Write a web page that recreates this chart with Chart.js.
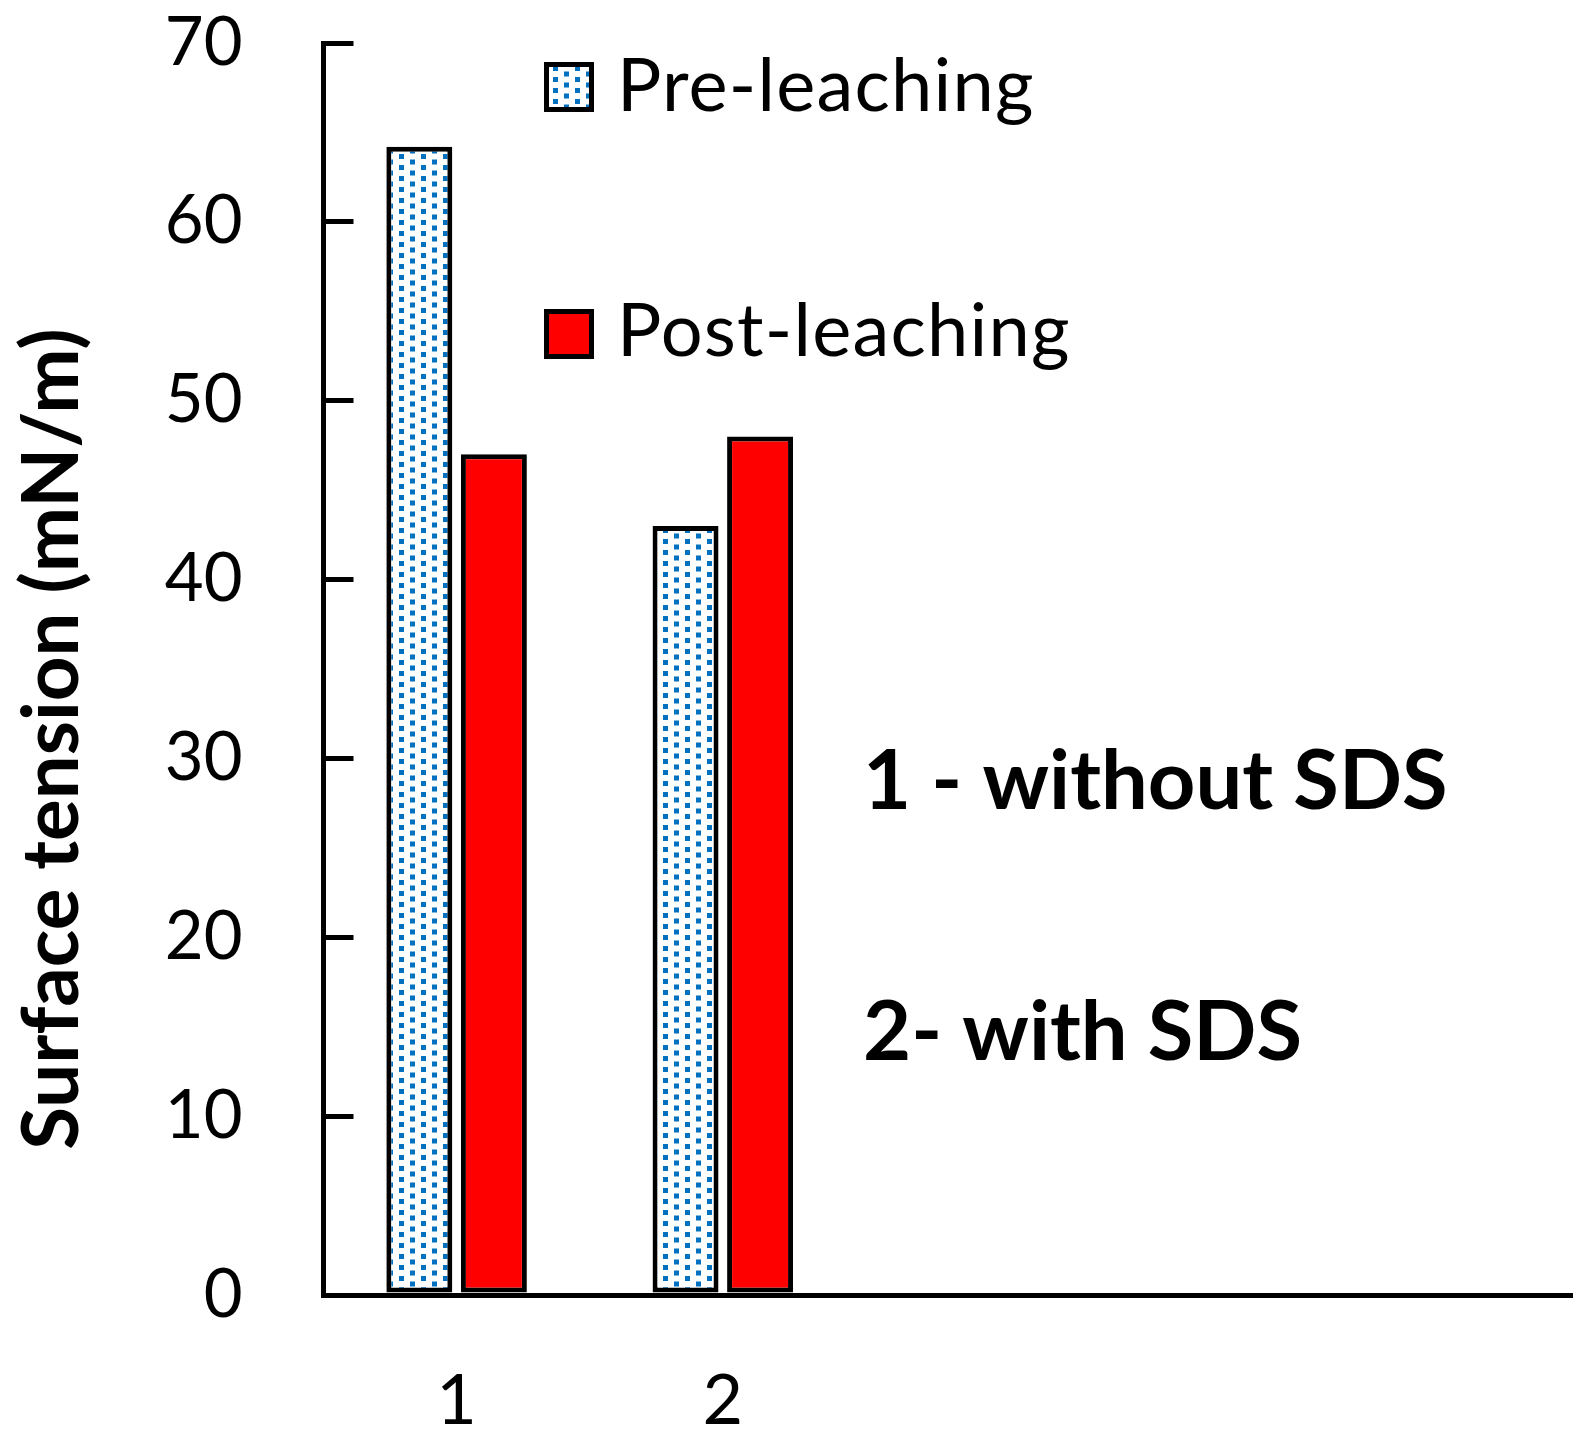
<!DOCTYPE html>
<html><head><meta charset="utf-8">
<script src="https://cdn.jsdelivr.net/npm/chart.js@4.4.1/dist/chart.umd.min.js"></script>
<style>html,body{margin:0;padding:0;background:#fff;} #wrap{width:1587px;height:1443px;position:relative;}</style>
</head><body><div id="wrap"><canvas id="c"></canvas></div>
<script>
const categories = ['1', '2'];
const seriesNames = ['Pre-leaching', 'Post-leaching'];
const preLeaching = [64.2, 43];
const postLeaching = [47, 48];
const yTickValues = [0, 10, 20, 30, 40, 50, 60, 70];
const notes = ['1 - without SDS', '2- with SDS'];
const yTitle = 'Surface tension (mN/m)';

const FONT = 'Lato, "Open Sans", sans-serif';

function makePattern() {
  const t = document.createElement('canvas');
  t.width = 22; t.height = 11;
  const g = t.getContext('2d');
  g.fillStyle = '#ffffff'; g.fillRect(0, 0, 22, 11);
  g.fillStyle = '#0070C0';
  g.fillRect(3, 0, 5, 5);
  g.fillRect(14, 5.5, 5, 5);
  return g.createPattern(t, 'repeat');
}
const pattern = makePattern();

const overlay = {
  id: 'overlay',
  afterDraw(chart) {
    const ctx = chart.ctx;
    ctx.save();
    const boxTop = [62, 309];
    const textBase = [111, 356];
    chart.data.datasets.forEach((ds, i) => {
      const x = 544, y = boxTop[i], s = 50;
      ctx.fillStyle = ds.backgroundColor;
      ctx.fillRect(x, y, s, s);
      ctx.lineWidth = 5; ctx.strokeStyle = '#000';
      ctx.strokeRect(x + 2.5, y + 2.5, s - 5, s - 5);
      ctx.fillStyle = '#000';
      ctx.textAlign = 'left'; ctx.textBaseline = 'alphabetic';
      ctx.font = '74px ' + FONT;
      ctx.letterSpacing = '1.2px';
      ctx.fillText(ds.label, 617, textBase[i]);
    });
    ctx.letterSpacing = '0px';
    ctx.fillStyle = '#000';
    ctx.font = 'bold 83px ' + FONT;
    ctx.fillText(notes[0], 863, 809);
    ctx.fillText(notes[1], 863, 1060);
    ctx.translate(53, 739);
    ctx.rotate(-Math.PI / 2);
    ctx.textAlign = 'center'; ctx.textBaseline = 'middle';
    ctx.font = 'bold 78px ' + FONT;
    ctx.fillText(yTitle, 0, 0);
    ctx.restore();
  }
};

new Chart(document.getElementById('c'), {
  type: 'bar',
  data: {
    datasets: [
      { label: seriesNames[0], data: preLeaching.map((v, i) => ({ x: i + 1, y: v })),
        backgroundColor: pattern, borderColor: '#000', borderWidth: 5, borderSkipped: false },
      { label: seriesNames[1], data: postLeaching.map((v, i) => ({ x: i + 1, y: v })),
        backgroundColor: '#FF0000', borderColor: '#000', borderWidth: 5, borderSkipped: false }
    ]
  },
  options: {
    responsive: true, maintainAspectRatio: false, animation: false,
    layout: { padding: { left: 0, top: 43, right: 15, bottom: 0 } },
    datasets: { bar: { categoryPercentage: 0.56, barPercentage: 0.885 } },
    plugins: { legend: { display: false }, tooltip: { enabled: false }, title: { display: false } },
    scales: {
      x: {
        type: 'linear', min: 0.5, max: 5.19, offset: false,
        afterBuildTicks: s => { s.ticks = categories.map((c, i) => ({ value: i + 1 })); },
        afterFit: s => { s.height = 148; s.paddingLeft = 0; s.paddingRight = 0; },
        grid: { display: false },
        border: { display: true, color: '#000', width: 5 },
        ticks: { callback: v => categories[v - 1] ?? '', font: { family: FONT, size: 70, lineHeight: 1 },
                 color: '#000', padding: 63, maxRotation: 0, autoSkip: false }
      },
      y: {
        min: 0, max: 70,
        afterBuildTicks: s => { s.ticks = yTickValues.map(v => ({ value: v })); },
        afterFit: s => { s.width = 323.5; s.paddingTop = 0; s.paddingBottom = 0; },
        grid: { display: true, drawOnChartArea: false, drawTicks: true, tickLength: -30,
                tickWidth: 5, tickColor: '#000', lineWidth: 5 },
        border: { display: true, color: '#000', width: 5 },
        ticks: { font: { family: FONT, size: 67 }, color: '#000', padding: 111, autoSkip: false }
      }
    }
  },
  plugins: [overlay]
});
</script></body></html>
